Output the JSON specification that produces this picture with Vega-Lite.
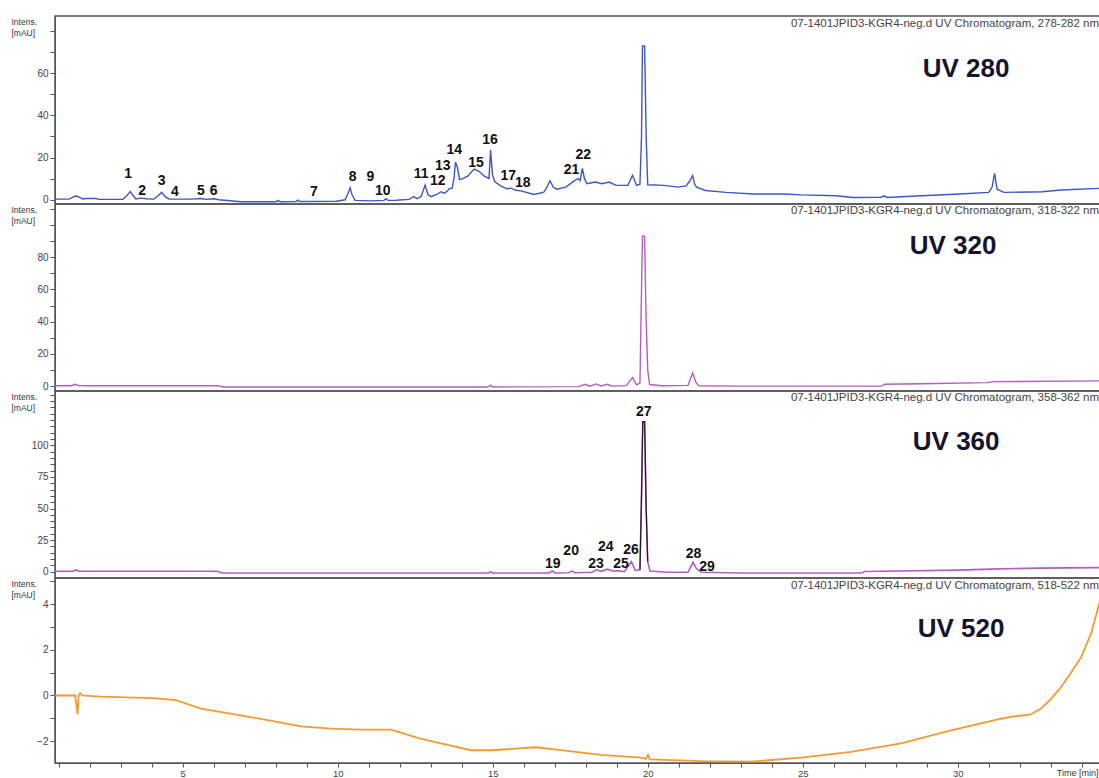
{
  "$schema": "https://vega.github.io/schema/vega-lite/v6.json",
  "background": "white",
  "padding": {"left": 10, "top": 15, "right": 0, "bottom": 0},
  "spacing": 0,
  "bounds": "flush",
  "config": {
    "view": {"stroke": "#555", "strokeWidth": 1.5},
    "axis": {"labelFont": "Liberation Sans", "labelFontSize": 10, "labelColor": "#444", "tickColor": "#555", "domainColor": "#555", "tickSize": 5, "labelPadding": 2, "grid": false, "titleFont": "Liberation Sans", "labelOverlap": false, "labelFlush": false},
    "text": {"font": "Liberation Sans"}
  },
  "datasets": {
    "uv280": [
      {"t":0.88,"v":0.3},{"t":1.33,"v":0.3},{"t":1.46,"v":1.2},{"t":1.56,"v":1.9},{"t":1.69,"v":1.0},{"t":1.78,"v":0.4},{"t":1.88,"v":0.6},{"t":2.2,"v":0.6},{"t":2.3,"v":0.2},{"t":3.07,"v":0.2},{"t":3.2,"v":2.0},{"t":3.31,"v":3.9},{"t":3.4,"v":2.0},{"t":3.49,"v":0.4},{"t":3.65,"v":0.8},{"t":3.82,"v":0.5},{"t":4.07,"v":0.3},{"t":4.2,"v":1.8},{"t":4.32,"v":3.5},{"t":4.43,"v":1.5},{"t":4.56,"v":0.4},{"t":5.27,"v":0.3},{"t":5.59,"v":0.6},{"t":5.75,"v":0.2},{"t":6.01,"v":0.5},{"t":6.17,"v":0},{"t":6.88,"v":-0.9},{"t":8.01,"v":-0.9},{"t":8.07,"v":-0.3},{"t":8.14,"v":-0.9},{"t":8.65,"v":-0.8},{"t":8.72,"v":-0.2},{"t":8.78,"v":-0.8},{"t":9.95,"v":-0.7},{"t":10.24,"v":0},{"t":10.33,"v":3},{"t":10.4,"v":5.7},{"t":10.46,"v":2.5},{"t":10.56,"v":-0.3},{"t":11.07,"v":-0.5},{"t":11.49,"v":-0.3},{"t":11.56,"v":0.5},{"t":11.62,"v":-0.3},{"t":11.88,"v":-0.2},{"t":12.3,"v":0.2},{"t":12.46,"v":1.5},{"t":12.56,"v":0.5},{"t":12.69,"v":1.5},{"t":12.82,"v":7.0},{"t":12.91,"v":2.5},{"t":13.01,"v":1.5},{"t":13.2,"v":2.5},{"t":13.33,"v":3.8},{"t":13.43,"v":3.0},{"t":13.53,"v":4.0},{"t":13.59,"v":5.2},{"t":13.69,"v":5.5},{"t":13.75,"v":10},{"t":13.8,"v":17.8},{"t":13.86,"v":15.5},{"t":13.93,"v":9.5},{"t":14.04,"v":10},{"t":14.2,"v":11.3},{"t":14.4,"v":14.5},{"t":14.56,"v":13.5},{"t":14.72,"v":11.3},{"t":14.88,"v":10},{"t":14.93,"v":23.6},{"t":14.99,"v":12},{"t":15.07,"v":8.5},{"t":15.27,"v":6.5},{"t":15.46,"v":5.2},{"t":15.59,"v":5.5},{"t":15.75,"v":4.5},{"t":15.91,"v":4.2},{"t":16.33,"v":2.5},{"t":16.65,"v":3.6},{"t":16.75,"v":6},{"t":16.85,"v":9},{"t":16.95,"v":6},{"t":17.07,"v":5.0},{"t":17.36,"v":6},{"t":17.65,"v":9.2},{"t":17.76,"v":10.0},{"t":17.82,"v":9},{"t":17.89,"v":14.9},{"t":17.96,"v":10},{"t":18.04,"v":7.6},{"t":18.31,"v":8.4},{"t":18.53,"v":7.6},{"t":18.75,"v":8.4},{"t":18.98,"v":6.8},{"t":19.36,"v":6.8},{"t":19.51,"v":11.6},{"t":19.64,"v":6.8},{"t":19.75,"v":7.4},{"t":19.8,"v":30},{"t":19.83,"v":72.8},{"t":19.9,"v":72.8},{"t":19.95,"v":30},{"t":20.0,"v":7.1},{"t":20.53,"v":6.8},{"t":20.97,"v":6.0},{"t":21.24,"v":6.6},{"t":21.36,"v":9},{"t":21.45,"v":11.5},{"t":21.51,"v":7.5},{"t":21.58,"v":6},{"t":21.86,"v":4.4},{"t":22.53,"v":3.5},{"t":23.41,"v":2.7},{"t":24.41,"v":2.7},{"t":24.95,"v":2.3},{"t":26.07,"v":1.9},{"t":26.62,"v":1.1},{"t":27.53,"v":1.2},{"t":27.62,"v":1.9},{"t":27.72,"v":1.1},{"t":28.84,"v":1.9},{"t":30.06,"v":2.7},{"t":31.0,"v":3.5},{"t":31.11,"v":6},{"t":31.19,"v":12.5},{"t":31.27,"v":5},{"t":31.49,"v":3.5},{"t":32.72,"v":3.8},{"t":33.33,"v":4.6},{"t":34.59,"v":5.4}
    ],
    "uv320": [
      {"t":0.88,"v":0.3},{"t":1.41,"v":0.3},{"t":1.53,"v":1.2},{"t":1.63,"v":0.4},{"t":2.13,"v":0.3},{"t":6.14,"v":0.3},{"t":6.3,"v":-0.5},{"t":14.84,"v":-0.5},{"t":14.93,"v":0.6},{"t":15.0,"v":-0.5},{"t":17.77,"v":-0.3},{"t":17.98,"v":1.2},{"t":18.13,"v":0},{"t":18.34,"v":1.4},{"t":18.49,"v":0.1},{"t":18.7,"v":1.2},{"t":18.85,"v":0},{"t":19.31,"v":0.3},{"t":19.51,"v":5.3},{"t":19.64,"v":0.8},{"t":19.75,"v":2},{"t":19.8,"v":60},{"t":19.83,"v":93},{"t":19.9,"v":93},{"t":19.95,"v":40},{"t":20.0,"v":10},{"t":20.06,"v":1},{"t":20.45,"v":0.3},{"t":21.3,"v":0.5},{"t":21.45,"v":8.3},{"t":21.55,"v":2.5},{"t":21.65,"v":0.3},{"t":23.0,"v":0},{"t":27.55,"v":0},{"t":27.65,"v":1.2},{"t":28.85,"v":1.5},{"t":30.95,"v":2.2},{"t":31.15,"v":2.8},{"t":34.59,"v":3.3}
    ],
    "uv360": [
      {"t":0.88,"v":0.3},{"t":1.46,"v":0.3},{"t":1.56,"v":1.5},{"t":1.66,"v":0.3},{"t":6.14,"v":0.3},{"t":6.24,"v":-1.0},{"t":14.87,"v":-1.0},{"t":14.93,"v":0},{"t":14.99,"v":-1.0},{"t":16.82,"v":-1.0},{"t":16.92,"v":0.5},{"t":17.02,"v":-1.0},{"t":17.45,"v":-0.8},{"t":17.55,"v":0.5},{"t":17.65,"v":-0.8},{"t":18.2,"v":-0.5},{"t":18.35,"v":1.5},{"t":18.5,"v":0.3},{"t":18.7,"v":2.0},{"t":18.9,"v":0.3},{"t":19.05,"v":0.8},{"t":19.25,"v":0},{"t":19.47,"v":7.9},{"t":19.6,"v":1},{"t":19.75,"v":1.5},{"t":19.8,"v":60},{"t":19.84,"v":118.7},{"t":19.9,"v":118.7},{"t":19.95,"v":50},{"t":20.0,"v":8},{"t":20.07,"v":0.5},{"t":20.65,"v":-0.5},{"t":21.3,"v":-0.5},{"t":21.46,"v":7.4},{"t":21.57,"v":2.5},{"t":21.73,"v":-0.5},{"t":23.0,"v":-1},{"t":26.9,"v":-1},{"t":27.0,"v":0.2},{"t":30.0,"v":1.2},{"t":31.35,"v":2.2},{"t":32.6,"v":2.8},{"t":34.59,"v":3.2}
    ],
    "uv360pk": [
      {"t":19.75,"v":1.5},{"t":19.8,"v":60},{"t":19.84,"v":118.7},{"t":19.9,"v":118.7},{"t":19.95,"v":50},{"t":20.0,"v":8}
    ],
    "uv520": [
      {"t":0.88,"v":0},{"t":1.53,"v":0},{"t":1.61,"v":-0.83},{"t":1.64,"v":0},{"t":1.69,"v":0.1},{"t":1.75,"v":0},{"t":2.36,"v":-0.05},{"t":4.04,"v":-0.12},{"t":4.78,"v":-0.2},{"t":5.59,"v":-0.58},{"t":7.2,"v":-0.95},{"t":8.82,"v":-1.35},{"t":9.78,"v":-1.45},{"t":10.75,"v":-1.5},{"t":11.72,"v":-1.5},{"t":12.69,"v":-1.9},{"t":13.65,"v":-2.2},{"t":14.3,"v":-2.4},{"t":14.94,"v":-2.4},{"t":15.75,"v":-2.33},{"t":16.39,"v":-2.27},{"t":17.2,"v":-2.4},{"t":18.49,"v":-2.6},{"t":19.78,"v":-2.72},{"t":19.94,"v":-2.78},{"t":20.01,"v":-2.6},{"t":20.07,"v":-2.8},{"t":21.72,"v":-2.88},{"t":23.33,"v":-2.9},{"t":24.95,"v":-2.72},{"t":26.56,"v":-2.47},{"t":28.17,"v":-2.1},{"t":29.78,"v":-1.53},{"t":31.4,"v":-1.02},{"t":31.82,"v":-0.92},{"t":32.36,"v":-0.83},{"t":32.69,"v":-0.57},{"t":33.01,"v":-0.15},{"t":33.33,"v":0.36},{"t":33.65,"v":1.0},{"t":33.98,"v":1.67},{"t":34.3,"v":2.7},{"t":34.59,"v":4.15}
    ],
    "peaks280": [
      {"t":3.24,"v":12.3,"label":"1"},{"t":3.69,"v":4.3,"label":"2"},{"t":4.32,"v":8.9,"label":"3"},{"t":4.75,"v":3.8,"label":"4"},{"t":5.59,"v":4.3,"label":"5"},{"t":6.0,"v":4.3,"label":"6"},{"t":9.23,"v":3.8,"label":"7"},{"t":10.48,"v":11,"label":"8"},{"t":11.05,"v":10.6,"label":"9"},{"t":11.45,"v":4.3,"label":"10"},{"t":12.69,"v":12.3,"label":"11"},{"t":13.23,"v":9,"label":"12"},{"t":13.39,"v":16,"label":"13"},{"t":13.76,"v":23.6,"label":"14"},{"t":14.46,"v":17.4,"label":"15"},{"t":14.91,"v":28.4,"label":"16"},{"t":15.5,"v":11.3,"label":"17"},{"t":15.97,"v":7.9,"label":"18"},{"t":17.54,"v":14.1,"label":"21"},{"t":17.92,"v":21.3,"label":"22"}
    ],
    "peaks360": [
      {"t":16.94,"v":6.1,"label":"19"},{"t":17.53,"v":16.4,"label":"20"},{"t":18.33,"v":6.3,"label":"23"},{"t":18.65,"v":19.5,"label":"24"},{"t":19.14,"v":5.8,"label":"25"},{"t":19.46,"v":17,"label":"26"},{"t":19.87,"v":126,"label":"27"},{"t":21.48,"v":14,"label":"28"},{"t":21.91,"v":3.7,"label":"29"}
    ],
    "headers": [
      {"panel":"280","t":34.59,"v":83.2,"text":"07-1401JPID3-KGR4-neg.d UV Chromatogram, 278-282 nm"},
      {"panel":"320","t":34.59,"v":108.7,"text":"07-1401JPID3-KGR4-neg.d UV Chromatogram, 318-322 nm"},
      {"panel":"360","t":34.59,"v":137.5,"text":"07-1401JPID3-KGR4-neg.d UV Chromatogram, 358-362 nm"},
      {"panel":"520","t":34.59,"v":4.8,"text":"07-1401JPID3-KGR4-neg.d UV Chromatogram, 518-522 nm"}
    ],
    "uvlabels": [
      {"panel":"280","t":30.27,"v":61.9,"text":"UV 280"},
      {"panel":"320","t":29.85,"v":87,"text":"UV 320"},
      {"panel":"360","t":29.95,"v":102.6,"text":"UV 360"},
      {"panel":"520","t":30.11,"v":2.9,"text":"UV 520"}
    ]
  },
  "vconcat": [
    {
      "width": 1045, "height": 188,
      "encoding": {
        "x": {"field": "t", "type": "quantitative", "scale": {"domain": [0.88, 34.59], "nice": false, "zero": false}, "axis": null},
        "y": {"field": "v", "type": "quantitative", "scale": {"domain": [-2, 87], "nice": false, "zero": false},
          "axis": {"values": [0,10,20,30,40,50,60,70,80], "labelExpr": "datum.value % 20 == 0 && datum.value < 80 ? datum.label : ''", "title": ["Intens.", "[mAU]"], "titleAngle": 0, "titleAlign": "left", "titleBaseline": "top", "titleX": -44, "titleY": 1, "titleFontSize": 8.5, "titleFontWeight": "normal", "titleColor": "#333", "titleLineHeight": 11}}
      },
      "layer": [
        {"data": {"name": "uv280"}, "mark": {"type": "line", "color": "#3f55c8", "strokeWidth": 1.4}},
        {"data": {"name": "peaks280"}, "mark": {"type": "text", "fontWeight": "bold", "fontSize": 14, "color": "#111"}, "encoding": {"text": {"field": "label"}}},
        {"data": {"name": "headers"}, "transform": [{"filter": "datum.panel == '280'"}], "mark": {"type": "text", "align": "right", "dx": -1, "fontSize": 11.5, "color": "#444"}, "encoding": {"text": {"field": "text"}}},
        {"data": {"name": "uvlabels"}, "transform": [{"filter": "datum.panel == '280'"}], "mark": {"type": "text", "fontWeight": "bold", "fontSize": 26, "color": "#14142e"}, "encoding": {"text": {"field": "text"}}}
      ]
    },
    {
      "width": 1045, "height": 187,
      "encoding": {
        "x": {"field": "t", "type": "quantitative", "scale": {"domain": [0.88, 34.59], "nice": false, "zero": false}, "axis": null},
        "y": {"field": "v", "type": "quantitative", "scale": {"domain": [-3, 113], "nice": false, "zero": false},
          "axis": {"values": [0,10,20,30,40,50,60,70,80,90,100,110], "labelExpr": "datum.value % 20 == 0 && datum.value < 100 ? datum.label : ''", "title": ["Intens.", "[mAU]"], "titleAngle": 0, "titleAlign": "left", "titleBaseline": "top", "titleX": -44, "titleY": 1, "titleFontSize": 8.5, "titleFontWeight": "normal", "titleColor": "#333", "titleLineHeight": 11}}
      },
      "layer": [
        {"data": {"name": "uv320"}, "mark": {"type": "line", "color": "#b35ec0", "strokeWidth": 1.4}},
        {"data": {"name": "headers"}, "transform": [{"filter": "datum.panel == '320'"}], "mark": {"type": "text", "align": "right", "dx": -1, "fontSize": 11.5, "color": "#444"}, "encoding": {"text": {"field": "text"}}},
        {"data": {"name": "uvlabels"}, "transform": [{"filter": "datum.panel == '320'"}], "mark": {"type": "text", "fontWeight": "bold", "fontSize": 26, "color": "#14142e"}, "encoding": {"text": {"field": "text"}}}
      ]
    },
    {
      "width": 1045, "height": 187,
      "encoding": {
        "x": {"field": "t", "type": "quantitative", "scale": {"domain": [0.88, 34.59], "nice": false, "zero": false}, "axis": null},
        "y": {"field": "v", "type": "quantitative", "scale": {"domain": [-5, 143], "nice": false, "zero": false},
          "axis": {"values": [0,5,10,15,20,25,30,35,40,45,50,55,60,65,70,75,80,85,90,95,100,105,110,115,120,125,130,135,140], "labelExpr": "datum.value % 25 == 0 && datum.value < 125 ? datum.label : ''", "title": ["Intens.", "[mAU]"], "titleAngle": 0, "titleAlign": "left", "titleBaseline": "top", "titleX": -44, "titleY": 1, "titleFontSize": 8.5, "titleFontWeight": "normal", "titleColor": "#333", "titleLineHeight": 11}}
      },
      "layer": [
        {"data": {"name": "uv360"}, "mark": {"type": "line", "color": "#b35ec0", "strokeWidth": 1.6}},
        {"data": {"name": "uv360pk"}, "mark": {"type": "line", "color": "#2a1530", "strokeWidth": 1.2}},
        {"data": {"name": "peaks360"}, "mark": {"type": "text", "fontWeight": "bold", "fontSize": 14, "color": "#111"}, "encoding": {"text": {"field": "label"}}},
        {"data": {"name": "headers"}, "transform": [{"filter": "datum.panel == '360'"}], "mark": {"type": "text", "align": "right", "dx": -1, "fontSize": 11.5, "color": "#444"}, "encoding": {"text": {"field": "text"}}},
        {"data": {"name": "uvlabels"}, "transform": [{"filter": "datum.panel == '360'"}], "mark": {"type": "text", "fontWeight": "bold", "fontSize": 26, "color": "#14142e"}, "encoding": {"text": {"field": "text"}}}
      ]
    },
    {
      "width": 1045, "height": 185,
      "encoding": {
        "x": {"field": "t", "type": "quantitative", "scale": {"domain": [0.88, 34.59], "nice": false, "zero": false},
          "axis": {"values": [1,2,3,4,5,6,7,8,9,10,11,12,13,14,15,16,17,18,19,20,21,22,23,24,25,26,27,28,29,30,31,32,33,34], "labelExpr": "datum.value % 5 == 0 ? datum.label : ''", "tickSize": 4, "labelPadding": 1, "labelFontSize": 9.5, "title": "Time [min]", "titleAnchor": "end", "titleAlign": "right", "titleBaseline": "top", "titleX": 1043, "titleY": 5, "titleFontSize": 9, "titleFontWeight": "normal", "titleColor": "#333"}},
        "y": {"field": "v", "type": "quantitative", "scale": {"domain": [-2.96, 5.15], "nice": false, "zero": false},
          "axis": {"values": [-2,-1,0,1,2,3,4,5], "labelExpr": "datum.value % 2 == 0 ? datum.label : ''", "title": ["Intens.", "[mAU]"], "titleAngle": 0, "titleAlign": "left", "titleBaseline": "top", "titleX": -44, "titleY": 1, "titleFontSize": 8.5, "titleFontWeight": "normal", "titleColor": "#333", "titleLineHeight": 11}}
      },
      "layer": [
        {"data": {"name": "uv520"}, "mark": {"type": "line", "color": "#f39a33", "strokeWidth": 1.8}},
        {"data": {"name": "headers"}, "transform": [{"filter": "datum.panel == '520'"}], "mark": {"type": "text", "align": "right", "dx": -1, "fontSize": 11.5, "color": "#444"}, "encoding": {"text": {"field": "text"}}},
        {"data": {"name": "uvlabels"}, "transform": [{"filter": "datum.panel == '520'"}], "mark": {"type": "text", "fontWeight": "bold", "fontSize": 26, "color": "#14142e"}, "encoding": {"text": {"field": "text"}}}
      ]
    }
  ]
}
